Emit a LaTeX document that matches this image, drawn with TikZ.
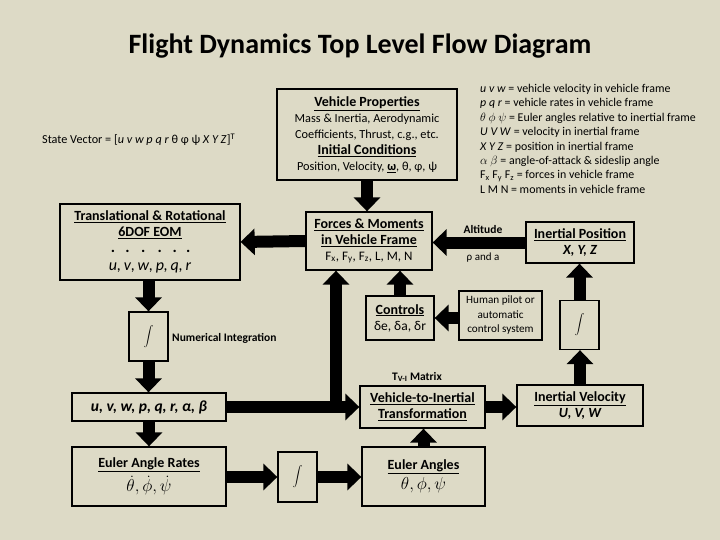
\documentclass[tikz,border=0pt]{standalone}
\usepackage{fontspec}
\setmainfont{Carlito}
\usetikzlibrary{arrows.meta}
\definecolor{paper}{RGB}{221,218,198}
\newcommand{\hd}[1]{{\fontsize{14}{16.5}\selectfont\bfseries\underline{#1}}}
\newcommand{\udot}[1]{\ooalign{\hidewidth\raisebox{2.3ex}{\upshape\bfseries .}\hidewidth\cr#1\cr}}
\begin{document}
\begin{tikzpicture}[x=1pt,y=-1pt,
  blk/.style={draw=black,line width=1.3pt,align=center,inner sep=1pt,
    font=\fontsize{12.3}{16}\selectfont},
  intg/.style={blk,minimum width=39pt,minimum height=49pt,font=\fontsize{15}{17}\selectfont},
  flow/.style={line width=12pt,-{Triangle[length=14pt,width=26pt]}},
  note/.style={font=\fontsize{11.5}{13}\selectfont\bfseries,inner sep=1pt}]

% background
\fill[paper] (0,0) rectangle (720,540);
\useasboundingbox (0,0) rectangle (720,540);

% Drawing title and texts
\node[font=\fontsize{28}{32}\selectfont\bfseries] (title) at (360,46) {Flight Dynamics Top Level Flow Diagram};
\node[anchor=west,font=\fontsize{12.2}{14}\selectfont,inner sep=0pt] (statevec) at (42,140)
  {State Vector = [\textit{u v w p q r} θ φ ψ \textit{X Y Z}]\textsuperscript{T}};
\node[anchor=north west,align=left,font=\fontsize{11.9}{14.4}\selectfont,inner sep=0pt] (legend) at (480,84)
  {\textit{u v w} = vehicle velocity in vehicle frame\\
   \textit{p q r} = vehicle rates in vehicle frame\\
   $\theta\ \phi\ \psi$ = Euler angles relative to inertial frame\\
   \textit{U V W} = velocity in inertial frame\\
   \textit{X Y Z} = position in inertial frame\\
   $\alpha\ \beta$ = angle-of-attack \& sideslip angle\\
   F\textsubscript{x} F\textsubscript{y} F\textsubscript{z} = forces in vehicle frame\\
   L M N = moments in vehicle frame};

% Drawing blocks
\node[blk,minimum width=180pt,minimum height=91pt] (vprop) at (367,134.5)
  {\hd{Vehicle Properties}\\Mass \& Inertia, Aerodynamic\\Coefficients, Thrust, c.g., etc.\\
   \hd{Initial Conditions}\\Position, Velocity, \textbf{\underline{ω}}, θ, φ, ψ};
\node[blk,minimum width=180pt,minimum height=76pt] (eom) at (150,242)
  {\hd{Translational \& Rotational}\\\hd{6DOF EOM}\\[11pt]
   {\fontsize{16}{16}\selectfont\itshape \udot{u},\,\udot{v},\,\udot{w},\,\udot{p},\,\udot{q},\,\udot{r}}};
\node[blk,minimum width=126pt,minimum height=58pt] (forces) at (369,241)
  {\hd{Forces \& Moments}\\\hd{in Vehicle Frame}\\
   {\fontsize{13}{15}\selectfont F\textsubscript{x}, F\textsubscript{y}, F\textsubscript{z}, L, M, N}};
\node[blk,minimum width=108pt,minimum height=41pt] (ipos) at (580,242.5)
  {\hd{Inertial Position}\\{\fontsize{14}{15}\selectfont\bfseries\itshape X, Y, Z}};
\node[blk,minimum width=68pt,minimum height=44pt] (controls) at (400,318)
  {\hd{Controls}\\{\fontsize{13.5}{15}\selectfont δe, δa, δr}};
\node[blk,minimum width=83pt,minimum height=49pt,font=\fontsize{11.2}{14.5}\selectfont] (pilot) at (500.5,315.5)
  {Human pilot or\\automatic\\control system};
\node[intg] (intA) at (148.5,336.5) {$\displaystyle\int$};
\node[intg] (intB) at (579.5,325) {$\displaystyle\int$};
\node[intg,minimum height=50pt] (intC) at (297.5,477) {$\displaystyle\int$};
\node[blk,minimum width=154pt,minimum height=28pt] (state) at (149,407)
  {{\fontsize{15.5}{16}\selectfont\bfseries\itshape u, v, w, p, q, r, α, β}};
\node[blk,minimum width=125pt,minimum height=42pt] (v2i) at (422.5,407)
  {\hd{Vehicle-to-Inertial}\\\hd{Transformation}};
\node[blk,minimum width=126pt,minimum height=41pt] (ivel) at (580,405.5)
  {\hd{Inertial Velocity}\\{\fontsize{14}{15}\selectfont\bfseries\itshape U, V, W}};
\node[blk,minimum width=154pt,minimum height=59pt] (rates) at (149,476.5)
  {\hd{Euler Angle Rates}\\[3pt]{\fontsize{19}{19}\selectfont $\dot\theta,\dot\phi,\dot\psi$}};
\node[blk,minimum width=123pt,minimum height=59pt] (euler) at (423.5,476.5)
  {\hd{Euler Angles}\\[3pt]{\fontsize{19}{19}\selectfont $\theta,\phi,\psi$}};

% Drawing labels
\node[note,anchor=west] (numint) at (171,338) {Numerical Integration};
\node[note] (alt) at (483,229) {Altitude};
\node[font=\fontsize{11}{13}\selectfont,inner sep=1pt] (rho) at (483,258) {ρ and a};
\node[note] (tvi) at (417,377) {T\textsubscript{V-I} Matrix};

% Drawing flow arrows
\coordinate (junc) at (336,407);
\draw[flow] (vprop.south) -- (vprop.south |- forces.north);
\draw[flow] (forces.west) -- (eom.east);
\draw[flow] (ipos.west) -- (ipos.west -| forces.east);
\draw[flow] (controls.north) -- (controls.north |- forces.south);
\draw[flow] (pilot.west |- controls.east) -- (controls.east);
\draw[flow] (intA.north |- eom.south) -- (intA.north);
\draw[flow] (intA.south) -- (intA.south |- state.north);
\draw[flow] (state.south) -- (state.south |- rates.north);
\draw[flow] (state.east) -- (v2i.west);
\draw[flow] (junc) -- (junc |- forces.south);
\draw[flow] (v2i.east) -- (v2i.east -| ivel.west);
\draw[flow] (ivel.north) -- (ivel.north |- intB.south);
\draw[flow] (intB.north) -- (intB.north |- ipos.south);
\draw[flow] (rates.east |- intC.west) -- (intC.west);
\draw[flow] (intC.east) -- (intC.east -| euler.west);
\draw[flow] (euler.north) -- (euler.north |- v2i.south);
\end{tikzpicture}
\end{document}
